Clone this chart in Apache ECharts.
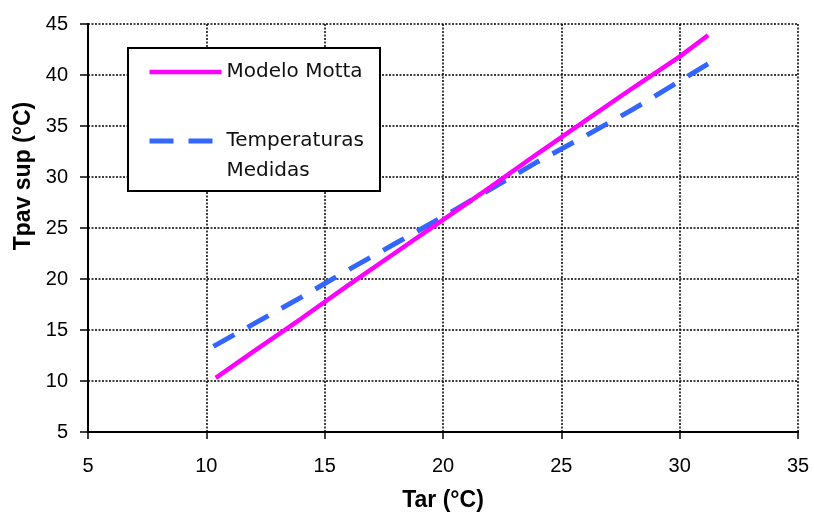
<!DOCTYPE html>
<html>
<head>
<meta charset="utf-8">
<script src="https://cdn.jsdelivr.net/npm/echarts@6/dist/echarts.min.js"></script>
<style>
  html, body { margin: 0; padding: 0; background: #fff; }
  #chart { width: 814px; height: 514px; }
</style>
</head>
<body>
<div id="chart"></div>
<script>
// Air temperature (Tar) vs. pavement surface temperature (Tpav sup)
const modelName = 'Modelo Motta';
const measuredName = 'Temperaturas Medidas';

const modelTar  = [10.4, 12.0, 14.0, 16.0, 18.0, 20.0, 22.0, 24.0, 26.0, 28.0, 30.0, 31.2];
const modelTpav = [10.3, 12.9, 16.1, 19.4, 22.6, 25.8, 29.0, 32.3, 35.5, 38.7, 41.8, 43.9];

const measTar  = [10.3, 12.0, 14.0, 16.0, 18.0, 20.0, 22.0, 24.0, 26.0, 28.0, 30.0, 31.2];
const measTpav = [13.4, 15.6, 18.2, 20.9, 23.5, 26.1, 28.8, 31.5, 34.0, 36.6, 39.4, 41.1];

const xTicks = { min: 5, max: 35, interval: 5 };
const yTicks = { min: 5, max: 45, interval: 5 };

const pairs = (xs, ys) => xs.map((x, i) => [x, ys[i]]);

const chart = echarts.init(document.getElementById('chart'), null, { renderer: 'canvas' });

const gridLine = { show: true, lineStyle: { color: '#000', width: 1.5, type: [2, 1.5] } };

const modelLine = { color: '#FF00FF', width: 4.5, type: 'solid' };
const measLine = { color: '#3366FF', width: 5, type: [24, 15], cap: 'butt' };

chart.setOption({
  animation: false,
  backgroundColor: '#fff',
  grid: { left: 88, right: 16, top: 24, bottom: 82, containLabel: false, outerBoundsMode: 'none' },
  legend: {
    orient: 'vertical',
    left: 128,
    top: 48,
    padding: [9, 16, 5, 19],
    itemGap: 9,
    itemWidth: 72,
    itemHeight: 14,
    borderColor: '#000',
    borderWidth: 2,
    backgroundColor: '#fff',
    itemStyle: { opacity: 0 },
    textStyle: { fontFamily: 'DejaVu Sans', fontSize: 20, color: '#111', lineHeight: 30 },
    data: [
      { name: modelName, lineStyle: modelLine },
      { name: measuredName, lineStyle: measLine }
    ],
    // leading blank line keeps the icon level with the first text line
    formatter: n => n === measuredName ? '\nTemperaturas\nMedidas' : n
  },
  xAxis: {
    type: 'value',
    min: xTicks.min, max: xTicks.max, interval: xTicks.interval,
    name: 'Tar (°C)',
    nameLocation: 'middle',
    nameGap: 57,
    nameTextStyle: { fontFamily: 'Liberation Sans', fontWeight: 'bold', fontSize: 23, color: '#000' },
    axisLine: { show: true, onZero: false, lineStyle: { color: '#000', width: 2 } },
    axisTick: { show: true, inside: false, length: 7, lineStyle: { color: '#000', width: 1.5 } },
    axisLabel: { margin: 24, fontFamily: 'Liberation Sans', fontSize: 20, color: '#000' },
    splitLine: gridLine
  },
  yAxis: {
    type: 'value',
    min: yTicks.min, max: yTicks.max, interval: yTicks.interval,
    name: 'Tpav sup (°C)',
    nameLocation: 'middle',
    nameGap: 39,
    nameTextStyle: { fontFamily: 'Liberation Sans', fontWeight: 'bold', fontSize: 23, color: '#000', padding: [0, 0, 0, 104] },
    axisLine: { show: true, onZero: false, lineStyle: { color: '#000', width: 2 } },
    axisTick: { show: true, inside: false, length: 8, lineStyle: { color: '#000', width: 1.5 } },
    axisLabel: { margin: 20, fontFamily: 'Liberation Sans', fontSize: 20, color: '#000' },
    splitLine: gridLine
  },
  series: [
    {
      name: measuredName,
      type: 'line',
      data: pairs(measTar, measTpav),
      showSymbol: false,
      symbol: 'none',
      z: 2,
      lineStyle: measLine,
      itemStyle: { color: '#3366FF' }
    },
    {
      name: modelName,
      type: 'line',
      data: pairs(modelTar, modelTpav),
      showSymbol: false,
      symbol: 'none',
      z: 3,
      lineStyle: modelLine,
      itemStyle: { color: '#FF00FF' }
    }
  ]
});
</script>
</body>
</html>
